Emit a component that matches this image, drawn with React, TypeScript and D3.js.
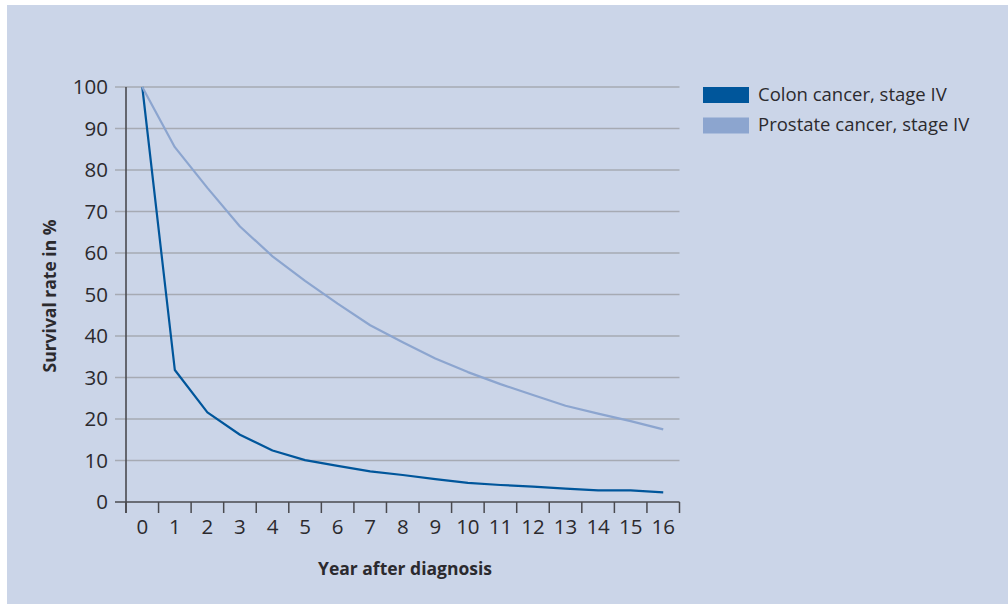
import React from "react";
import * as d3 from "d3";

// Years after diagnosis (category axis)
const years: number[] = [0, 1, 2, 3, 4, 5, 6, 7, 8, 9, 10, 11, 12, 13, 14, 15, 16];

// Survival rate in % per year
const colonStageIV: number[] = [100, 31.8, 21.6, 16.2, 12.4, 10.1, 8.7, 7.4, 6.5, 5.5, 4.6, 4.1, 3.7, 3.2, 2.8, 2.8, 2.3];
const prostateStageIV: number[] = [100, 85.5, 75.7, 66.4, 59.2, 53.3, 47.8, 42.6, 38.5, 34.6, 31.3, 28.4, 25.8, 23.2, 21.3, 19.5, 17.5];

const yTicks: number[] = [0, 10, 20, 30, 40, 50, 60, 70, 80, 90, 100];

const seriesNames: string[] = ["Colon cancer, stage IV", "Prostate cancer, stage IV"];
const seriesColors: string[] = ["#00569b", "#8ca5cf"];

const W = 1008;
const H = 605;
const FONT = "'Open Sans', 'Noto Sans', sans-serif";
const TEXT = "#2b2a2e";

export default function App() {
  const x = d3.scaleBand<number>().domain(years).range([126, 679.5]).padding(0);
  const y = d3.scaleLinear().domain([0, 100]).range([502, 87]);
  const cx = (yr: number) => (x(yr) as number) + x.bandwidth() / 2;

  const line = d3
    .line<number>()
    .x((_, i) => cx(years[i]))
    .y((d) => y(d));

  const tickEdges = [...years.map((yr) => x(yr) as number), x.range()[1]];
  const gridLeft = 115;
  const gridRight = x.range()[1];

  const series = [colonStageIV, prostateStageIV];

  return (
    <svg
      width={W}
      height={H}
      viewBox={`0 0 ${W} ${H}`}
      style={{ position: "absolute", left: 0, top: 0, display: "block" }}
      fontFamily={FONT}
    >
      <rect x={0} y={0} width={W} height={H} fill="#ffffff" />
      <rect x={7} y={5} width={W - 7} height={599} fill="#cbd5e8" />

      {/* horizontal gridlines with left tick stubs */}
      {yTicks.map((t) => (
        <line
          key={`g${t}`}
          x1={gridLeft}
          x2={gridRight}
          y1={y(t)}
          y2={y(t)}
          stroke={t === 0 ? "#4a4a4f" : "#a6aab3"}
          strokeWidth={t === 0 ? 1.6 : 1.4}
        />
      ))}

      {/* y tick labels */}
      {yTicks.map((t) => (
        <text
          key={`yl${t}`}
          x={108}
          y={y(t)}
          dy="0.36em"
          textAnchor="end"
          fontSize={20.5}
          fill={TEXT}
        >
          {t}
        </text>
      ))}

      {/* y axis line */}
      <line x1={126} x2={126} y1={y(100)} y2={513} stroke="#4a4a4f" strokeWidth={1.6} />

      {/* x ticks at band edges */}
      {tickEdges.map((px, i) => (
        <line key={`xt${i}`} x1={px} x2={px} y1={y(0)} y2={513} stroke="#4a4a4f" strokeWidth={1.5} />
      ))}

      {/* x tick labels centred in bands */}
      {years.map((yr) => (
        <text key={`xl${yr}`} x={cx(yr)} y={533.5} textAnchor="middle" fontSize={20.5} fill={TEXT}>
          {yr}
        </text>
      ))}

      {/* series lines */}
      {series.map((vals, i) => (
        <path
          key={`s${i}`}
          d={line(vals) || ""}
          fill="none"
          stroke={seriesColors[i]}
          strokeWidth={2.2}
          strokeLinejoin="round"
        />
      ))}

      {/* axis titles */}
      <text x={405} y={575} textAnchor="middle" fontSize={17.5} fontWeight={700} fill={TEXT}>
        Year after diagnosis
      </text>
      <text
        transform="translate(56,296) rotate(-90)"
        textAnchor="middle"
        fontSize={17.5}
        fontWeight={700}
        fill={TEXT}
      >
        Survival rate in %
      </text>

      {/* legend */}
      {seriesNames.map((name, i) => (
        <g key={`lg${i}`} transform={`translate(703,${87 + i * 30.5})`}>
          <rect x={0} y={0} width={46} height={16} fill={seriesColors[i]} />
          <text x={55} y={13.5} fontSize={18.5} fill={TEXT}>
            {name}
          </text>
        </g>
      ))}
    </svg>
  );
}
